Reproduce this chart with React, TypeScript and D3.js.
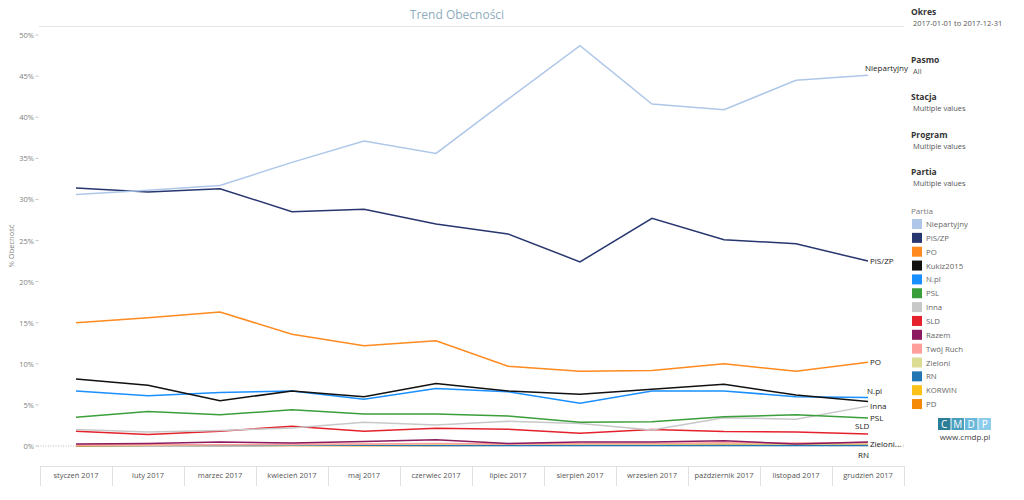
import React from "react";
import * as d3 from "d3";

const months = [
  "styczeń 2017", "luty 2017", "marzec 2017", "kwiecień 2017", "maj 2017", "czerwiec 2017",
  "lipiec 2017", "sierpień 2017", "wrzesień 2017", "październik 2017", "listopad 2017", "grudzień 2017",
];

const parties = ["Niepartyjny", "PiS/ZP", "PO", "Kukiz2015", "N.pl", "PSL", "Inna", "SLD", "Razem", "Twój Ruch", "Zieloni", "RN", "KORWIN", "PD"];
const colors = ["#aec7e8", "#27366f", "#ff8a1f", "#111111", "#1a8fff", "#3a9e3a", "#c8c8c8", "#e5222c", "#8b1a5e", "#ff9f9c", "#dcdc92", "#2276b4", "#fcc21c", "#f58a07"];

const niepartyjny = [30.6, 31.1, 31.7, 34.5, 37.1, 35.6, 42.2, 48.7, 41.6, 40.9, 44.5, 45.1];
const pis = [31.4, 30.9, 31.3, 28.5, 28.8, 27.0, 25.8, 22.4, 27.7, 25.1, 24.6, 22.5];
const po = [15.0, 15.6, 16.3, 13.6, 12.2, 12.8, 9.7, 9.1, 9.2, 10.0, 9.1, 10.2];
const kukiz = [8.15, 7.4, 5.5, 6.7, 6.0, 7.6, 6.7, 6.3, 6.9, 7.5, 6.2, 5.4];
const npl = [6.7, 6.1, 6.5, 6.7, 5.7, 7.0, 6.6, 5.2, 6.7, 6.7, 6.0, 5.9];
const psl = [3.5, 4.2, 3.8, 4.4, 3.9, 3.9, 3.65, 2.9, 2.95, 3.55, 3.8, 3.4];
const inna = [2.0, 1.7, 1.9, 2.2, 2.9, 2.55, 3.0, 2.75, 1.95, 3.45, 3.25, 4.85];
const sld = [1.8, 1.4, 1.8, 2.4, 1.8, 2.15, 2.05, 1.55, 2.0, 1.75, 1.7, 1.45];
const razem = [0.25, 0.3, 0.5, 0.35, 0.55, 0.75, 0.3, 0.5, 0.5, 0.65, 0.25, 0.5];
const twojRuch = [0.1, 0.15, 0.15, 0.2, 0.25, 0.3, 0.25, 0.3, 0.3, 0.4, 0.35, 0.4];
const zieloni = [0.1, 0.1, 0.15, 0.15, 0.2, 0.2, 0.2, 0.25, 0.25, 0.3, 0.25, 0.3];
const rn = [0.05, 0.05, 0.05, 0.1, 0.1, 0.05, 0.05, 0.05, 0.05, 0.05, 0.05, 0.05];
const korwin = [0.05, 0.1, 0.15, 0.1, 0.05, 0.1, 0.1, 0.15, 0.15, 0.1, 0.1, 0.1];
const pd = [0.0, 0.05, 0.05, 0.05, 0.05, 0.05, 0.1, 0.1, 0.1, 0.1, 0.1, 0.1];

const seriesValues = [niepartyjny, pis, po, kukiz, npl, psl, inna, sld, razem, twojRuch, zieloni, rn, korwin, pd];

const yTicks = [0, 5, 10, 15, 20, 25, 30, 35, 40, 45, 50];

const endLabels = ["Niepartyjny", "PiS/ZP", "PO", "N.pl", "Inna", "PSL", "SLD", "Zieloni...", "RN"];
const endLabelSeries = ["Niepartyjny", "PiS/ZP", "PO", "N.pl", "Inna", "PSL", "SLD", "Zieloni", "RN"];

const filterTitles = ["Okres", "Pasmo", "Stacja", "Program", "Partia"];
const filterValues = ["2017-01-01 to 2017-12-31", "All", "Multiple values", "Multiple values", "Multiple values"];

const logoLetters = ["C", "M", "D", "P"];
const logoColors = ["#2b7d98", "#4a9ec0", "#6ab9dc", "#8dcdec"];

const FONT = "'Open Sans', 'Noto Sans', sans-serif";

// label placement offsets (layout only)
const labelOffsets: Record<string, [number, number]> = {
  "Niepartyjny": [-3, -7],
  "PiS/ZP": [2, 0],
  "PO": [2, 0],
  "N.pl": [-1, -7],
  "Inna": [2, 0],
  "PSL": [2, 0],
  "SLD": [-13, -8],
  "Zieloni": [2, 0],
  "RN": [-10, 9],
};

export default function App() {
  const width = 1024;
  const height = 500;
  const x = d3.scaleBand<string>().domain(months).range([40, 904]);
  const y = d3.scaleLinear().domain([0, 50]).range([446, 35]);
  const cx = (m: string) => (x(m) as number) + x.bandwidth() / 2;
  const line = d3
    .line<number>()
    .x((_, i) => cx(months[i]))
    .y((v) => y(v));

  const order = parties.map((_, i) => i).reverse();

  return (
    <svg width={width} height={height} style={{ position: "absolute", left: 0, top: 0, background: "#fff" }} fontFamily={FONT}>
      <rect x={0} y={0} width={width} height={height} fill="#fff" />
      {/* title */}
      <text x={457} y={19} textAnchor="middle" fontSize={12} fill="#8eacbd">Trend Obecności</text>
      <line x1={39} x2={904} y1={26.5} y2={26.5} stroke="#e4e4e4" strokeWidth={1} />

      {/* y axis ticks */}
      {yTicks.map((t) => (
        <g key={t}>
          <text x={34} y={y(t) + 3} textAnchor="end" fontSize={7.5} fill="#808080">{t}%</text>
          <line x1={35.5} x2={38.5} y1={y(t)} y2={y(t)} stroke="#c8c8c8" />
        </g>
      ))}
      <line x1={38} x2={904} y1={y(0)} y2={y(0)} stroke="#bbb" strokeDasharray="1,1.5" />
      <text transform={`translate(14,246) rotate(-90)`} textAnchor="middle" fontSize={7.5} fill="#808080">% Obecność</text>

      {/* x axis */}
      <line x1={40} x2={904} y1={466.5} y2={466.5} stroke="#e0e0e0" />
      {months.map((m) => (
        <line key={"d" + m} x1={(x(m) as number) + 0.5} x2={(x(m) as number) + 0.5} y1={466} y2={486} stroke="#e0e0e0" />
      ))}
      <line x1={904.5} x2={904.5} y1={466} y2={486} stroke="#e0e0e0" />
      {months.map((m) => (
        <text key={"l" + m} x={cx(m)} y={478} textAnchor="middle" fontSize={7.5} fill="#555">{m}</text>
      ))}

      {/* lines */}
      {order.map((i) => (
        <path key={parties[i]} d={line(seriesValues[i]) || ""} fill="none" stroke={colors[i]} strokeWidth={1.5} />
      ))}

      {/* end labels */}
      {endLabels.map((lab, k) => {
        const s = endLabelSeries[k];
        const idx = parties.indexOf(s);
        const v = seriesValues[idx][months.length - 1];
        const [dx, dy] = labelOffsets[s];
        return (
          <text key={lab} x={cx(months[months.length - 1]) + dx} y={y(v) + dy + 3} fontSize={8} fill="#222">{lab}</text>
        );
      })}

      {/* right panel filters */}
      {filterTitles.map((t, i) => {
        const ty = [15, 63, 100, 138, 175][i];
        return (
          <g key={t + i}>
            <text x={911} y={ty} fontSize={8.5} fontWeight="bold" fill="#333">{t}</text>
            <text x={913} y={ty + 11} fontSize={7.5} fill="#555">{filterValues[i]}</text>
          </g>
        );
      })}

      {/* legend */}
      <text x={911} y={214} fontSize={8} fill="#777">Partia</text>
      {parties.map((p, i) => {
        const ry = 219 + i * 13.85;
        return (
          <g key={"lg" + p}>
            <rect x={912} y={ry} width={10} height={10} fill={colors[i]} />
            <text x={926} y={ry + 8} fontSize={7.8} fill="#666">{p}</text>
          </g>
        );
      })}

      {/* logo */}
      {logoLetters.map((l, i) => (
        <g key={"lo" + l}>
          <rect x={938 + i * 13.5} y={418} width={12.5} height={12} fill={logoColors[i]} />
          <text x={938 + i * 13.5 + 6.25} y={428} textAnchor="middle" fontSize={10} fill="#fff">{l}</text>
        </g>
      ))}
      <text x={965} y={440} textAnchor="middle" fontSize={8} fill="#444">www.cmdp.pl</text>
    </svg>
  );
}
